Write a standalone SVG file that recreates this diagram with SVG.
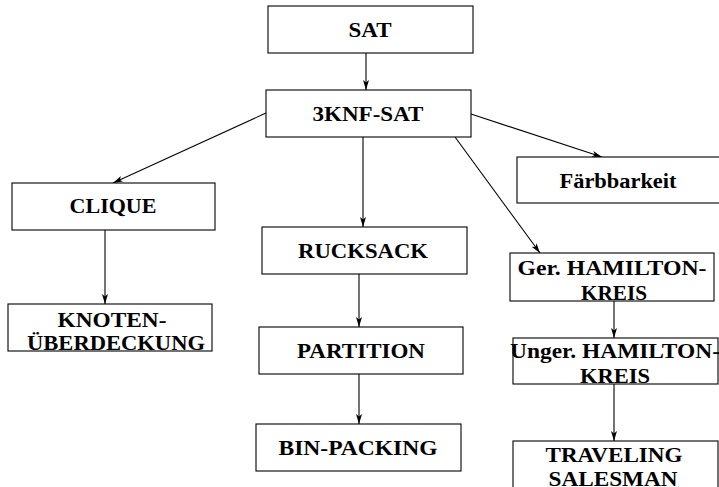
<svg xmlns="http://www.w3.org/2000/svg" width="719" height="487" viewBox="0 0 719 487">
<style>
.box{fill:#fff;stroke:#000;stroke-width:1.1}
.t{font-family:"Liberation Serif","Times New Roman",serif;font-weight:bold;font-size:20.5px;fill:#000;text-anchor:middle}
.c{stroke:#000;stroke-width:1.1;fill:none;marker-end:url(#ah)}
</style>
<defs>
<marker id="ah" viewBox="0 0 10 6" refX="10" refY="3" markerWidth="10" markerHeight="6" markerUnits="userSpaceOnUse" orient="auto">
<path d="M0,0 L10,3 L0,6 L2.5,3 Z" fill="#000"/>
</marker>
</defs>
<rect width="719" height="487" fill="#fff"/>
<g id="connectors">
<line class="c" x1="366" y1="53" x2="366" y2="90"/>
<line class="c" x1="266" y1="113" x2="113" y2="183"/>
<line class="c" x1="471" y1="114" x2="602" y2="157"/>
<line class="c" x1="455" y1="137" x2="540" y2="253"/>
<line class="c" x1="363" y1="137" x2="363" y2="227"/>
<line class="c" x1="359" y1="274" x2="359" y2="327"/>
<line class="c" x1="359" y1="374" x2="359" y2="424"/>
<line class="c" x1="105" y1="230" x2="105" y2="304"/>
<line class="c" x1="614" y1="301" x2="614" y2="338"/>
<line class="c" x1="614" y1="384" x2="614" y2="441"/>
</g>
<g id="sat"><rect class="box" x="268" y="6" width="205" height="47"/><text class="t" x="370" y="37" textLength="43" lengthAdjust="spacingAndGlyphs">SAT</text></g>
<g id="knf"><rect class="box" x="266" y="90" width="205" height="47"/><text class="t" x="368" y="121" textLength="111" lengthAdjust="spacingAndGlyphs">3KNF-SAT</text></g>
<g id="clique"><rect class="box" x="12" y="183" width="203" height="47"/><text class="t" x="113" y="213" textLength="87" lengthAdjust="spacingAndGlyphs">CLIQUE</text></g>
<g id="knoten"><rect class="box" x="8" y="304" width="204" height="47"/><text class="t" x="112" y="327" textLength="109" lengthAdjust="spacingAndGlyphs">KNOTEN-</text><text class="t" x="116" y="350" textLength="178" lengthAdjust="spacingAndGlyphs">ÜBERDECKUNG</text></g>
<g id="rucksack"><rect class="box" x="262" y="227" width="205" height="47"/><text class="t" x="363" y="258" textLength="130" lengthAdjust="spacingAndGlyphs">RUCKSACK</text></g>
<g id="partition"><rect class="box" x="259" y="327" width="204" height="47"/><text class="t" x="361" y="358" textLength="128" lengthAdjust="spacingAndGlyphs">PARTITION</text></g>
<g id="binpacking"><rect class="box" x="256" y="424" width="205" height="47"/><text class="t" x="358" y="455" textLength="159" lengthAdjust="spacingAndGlyphs">BIN-PACKING</text></g>
<g id="faerb"><rect class="box" x="517" y="157" width="206" height="46"/><text class="t" x="618" y="188" textLength="117" lengthAdjust="spacingAndGlyphs">Färbbarkeit</text></g>
<g id="gerham"><rect class="box" x="510" y="253" width="204" height="48"/><text class="t" x="612" y="275" textLength="189" lengthAdjust="spacingAndGlyphs">Ger. HAMILTON-</text><text class="t" x="614" y="300" textLength="66" lengthAdjust="spacingAndGlyphs">KREIS</text></g>
<g id="ungerham"><rect class="box" x="513" y="338" width="205" height="46"/><text class="t" x="615" y="358" textLength="210" lengthAdjust="spacingAndGlyphs">Unger. HAMILTON-</text><text class="t" x="615" y="383" textLength="70" lengthAdjust="spacingAndGlyphs">KREIS</text></g>
<g id="tsp"><rect class="box" x="513" y="441" width="205" height="60"/><text class="t" x="614" y="462" textLength="137" lengthAdjust="spacingAndGlyphs">TRAVELING</text><text class="t" x="613" y="486" textLength="129" lengthAdjust="spacingAndGlyphs">SALESMAN</text></g>
</svg>
